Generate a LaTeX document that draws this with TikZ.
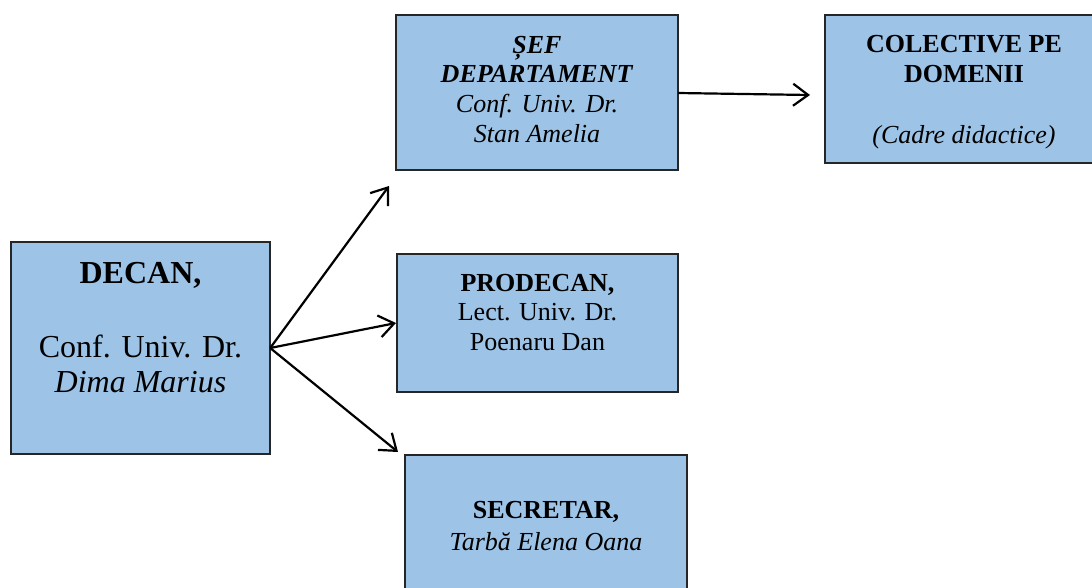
\documentclass[tikz,border=0pt]{standalone}
\usepackage{fontspec}
\setmainfont{Liberation Serif}
\usetikzlibrary{arrows.meta}
\definecolor{boxblue}{HTML}{9DC3E6}
\begin{document}
\begin{tikzpicture}[x=1pt,y=-1pt,
  box/.style={draw=black!85,line width=1.3pt,fill=boxblue},
  lbl/.style={anchor=base,inner sep=0pt,font=\fontsize{26}{30}\selectfont},
  big/.style={anchor=base,inner sep=0pt,font=\fontsize{32}{36}\selectfont},
  arr/.style={line width=2.2pt,-{Straight Barb[length=15pt,width=22pt,line width=2.2pt]}}]
\useasboundingbox (0,0) rectangle (1092,587);
\clip (0,0) rectangle (1092,587);
% boxes
\draw[box] (11,242) rectangle (270,454);
\node[inner sep=0pt,minimum width=259pt,minimum height=212pt] (decan) at (140.5,348) {};
\draw[box] (396,15) rectangle (678,170);
\node[inner sep=0pt,minimum width=282pt,minimum height=155pt] (sef) at (537,93) {};
\draw[box] (825,15) rectangle (1104,163);
\node[inner sep=0pt,minimum width=279pt,minimum height=148pt] (col) at (964.5,89) {};
\draw[box] (397,254) rectangle (678,392);
\node[inner sep=0pt,minimum width=281pt,minimum height=138pt] (pro) at (537.5,323) {};
\draw[box] (405,455) rectangle (687,600);
\node[inner sep=0pt,minimum width=282pt,minimum height=145pt] (sec) at (546,527.5) {};
% texts
\node[big] (t1) at (140.5,283) {\textbf{DECAN,}};
\node[big] (t2) at (140.5,357) {Conf. Univ. Dr.};
\node[big] (t3) at (140.5,392) {\textit{Dima Marius}};
\node[lbl] (s1) at (537,53) {\textbf{\textit{ȘEF}}};
\node[lbl] (s2) at (537,82) {\textbf{\textit{DEPARTAMENT}}};
\node[lbl] (s3) at (537,112) {\textit{Conf. Univ. Dr.}};
\node[lbl] (s4) at (537,142) {\textit{Stan Amelia}};
\node[lbl] (c1) at (964,52) {\textbf{COLECTIVE PE}};
\node[lbl] (c2) at (964,82) {\textbf{DOMENII}};
\node[lbl] (c3) at (964,143) {\textit{(Cadre didactice)}};
\node[lbl] (p1) at (537.5,291) {\textbf{PRODECAN,}};
\node[lbl] (p2) at (537.5,320) {Lect. Univ. Dr.};
\node[lbl] (p3) at (537.5,350) {Poenaru Dan};
\node[lbl] (e1) at (546,518) {\textbf{SECRETAR,}};
\node[lbl] (e2) at (546,550) {\textit{Tarbă Elena Oana}};
% arrow end points
\coordinate (aS) at (389,186);
\coordinate (aP) at (396,323);
\coordinate (aE) at (398,452);
\coordinate (aC) at (810,95);
\draw[arr] (decan.east) -- (aS);
\draw[arr] (decan.east) -- (aP);
\draw[arr] (decan.east) -- (aE);
\draw[arr] (sef.east) -- (aC);
\end{tikzpicture}
\end{document}
